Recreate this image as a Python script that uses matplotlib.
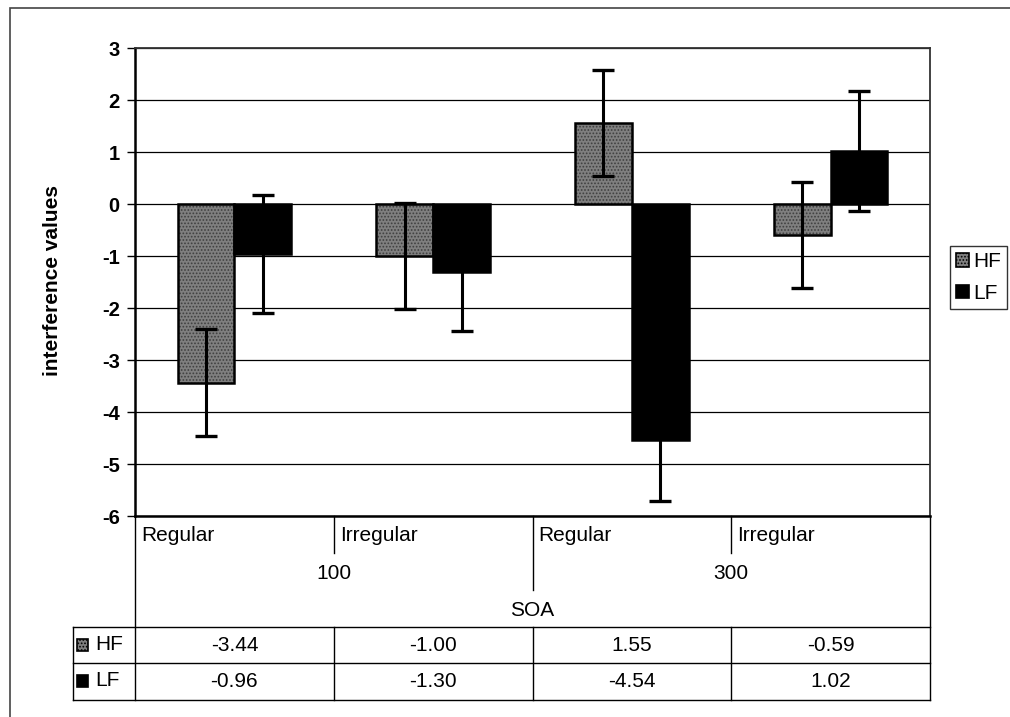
import numpy as np
import matplotlib
matplotlib.use('Agg')
import matplotlib.pyplot as plt
import matplotlib.transforms as mtransforms
from matplotlib.patches import Rectangle, Patch
from matplotlib.lines import Line2D

plt.rcParams['font.family'] = ['Liberation Sans', 'DejaVu Sans']
plt.rcParams['hatch.linewidth'] = 0.8
plt.rcParams['axes.unicode_minus'] = False

# data
soa_levels = ['100', '300']
rhythm = ['Regular', 'Irregular', 'Regular', 'Irregular']
series = ['HF', 'LF']
hf = [-3.44, -1.00, 1.55, -0.59]
lf = [-0.96, -1.30, -4.54, 1.02]
hf_err = [1.03, 1.01, 1.02, 1.02]
lf_err = [1.13, 1.14, 1.17, 1.15]

W, H = 1010, 717
fig = plt.figure(figsize=(W / 100, H / 100), dpi=100)
ax = fig.add_axes([135 / W, 1 - 516 / H, 795 / W, 468 / H])

def fx(p):
    return p / W

def fy(p):
    return 1 - p / H

grey = '#7f7f7f'
x = np.arange(len(hf))
w = 1 / 3.5

# bars
ax.bar(x - w / 2, hf, w, color=grey, edgecolor='#3f3f3f', linewidth=0, hatch='.....', zorder=2)
ax.bar(x - w / 2, hf, w, fill=False, edgecolor='black', linewidth=1.8, zorder=3)
ax.bar(x + w / 2, lf, w, color='black', edgecolor='black', linewidth=1.8, zorder=3)
ax.errorbar(x - w / 2, hf, yerr=hf_err, fmt='none', ecolor='black',
            elinewidth=2.2, capsize=8, capthick=2.4, zorder=4)
ax.errorbar(x + w / 2, lf, yerr=lf_err, fmt='none', ecolor='black',
            elinewidth=2.2, capsize=8, capthick=2.4, zorder=4)

ax.set_xlim(-0.5, len(hf) - 0.5)
ax.set_ylim(-6, 3)
ax.set_yticks(range(-6, 4))
ax.set_xticks([])
ax.yaxis.grid(True, color='black', linewidth=0.9)
ax.set_axisbelow(True)
ax.tick_params(axis='y', length=6, width=1, pad=5, labelsize=14.5)
for t in ax.get_yticklabels():
    t.set_fontweight('bold')
for s in ['left', 'bottom']:
    ax.spines[s].set_linewidth(1.8)
for s in ['top', 'right']:
    ax.spines[s].set_linewidth(1.3)
    ax.spines[s].set_color('#333333')

fig.text(fx(53), fy(281), 'interference values', rotation=90, ha='center', va='center',
         fontsize=15, fontweight='bold')

# category axis below the plot
bt = mtransforms.blended_transform_factory(ax.transData, ax.transAxes)
for i, r in enumerate(rhythm):
    ax.text(i - 0.5 + 0.03, -0.041, r, transform=bt, ha='left', va='center', fontsize=15)
for j, s in enumerate(soa_levels):
    ax.text(2 * j + 0.5, -0.122, s, transform=bt, ha='center', va='center', fontsize=15)
ax.text(1.5, -0.201, 'SOA', transform=bt, ha='center', va='center', fontsize=15)

lk = dict(transform=bt, color='black', linewidth=1.0, clip_on=False)
for xs in [0.5, 2.5]:
    ax.add_line(Line2D([xs, xs], [0, -0.079], **lk))
ax.add_line(Line2D([1.5, 1.5], [0, -0.158], **lk))
ax.add_line(Line2D([-0.5, -0.5], [0, -0.393], **lk))
ax.add_line(Line2D([3.5, 3.5], [0, -0.393], **lk))

# data table
x_left = -0.5 - (135 - 73) / 198.75
row_y = [-0.237, -0.314, -0.393]
for yy in row_y:
    ax.add_line(Line2D([x_left, 3.5], [yy, yy], **lk))
for xs in [x_left, 0.5, 1.5, 2.5]:
    ax.add_line(Line2D([xs, xs], [row_y[0], row_y[-1]], **lk))

row_mid = [-0.276, -0.354]
for vals, ym in zip([hf, lf], row_mid):
    for i, v in enumerate(vals):
        ax.text(i, ym, '%.2f' % v, transform=bt, ha='center', va='center', fontsize=15)

key_styles = [dict(facecolor=grey, edgecolor='black', hatch='.....', linewidth=1.2),
              dict(facecolor='black', edgecolor='black', linewidth=1.2)]
for name, ym, st in zip(series, [645, 681], key_styles):
    fig.add_artist(Rectangle((fx(77), fy(ym + 6)), 11 / W, 12 / H, transform=fig.transFigure, **st))
    fig.text(fx(95), fy(ym), name, ha='left', va='center', fontsize=15)

# legend
handles = [Patch(**key_styles[0]), Patch(**key_styles[1])]
leg = fig.legend(handles, series, loc='upper left', bbox_to_anchor=(fx(950), fy(246)),
                 fontsize=15, frameon=True, fancybox=False, edgecolor='black',
                 borderpad=0.3, handlelength=0.6, handleheight=0.6, handletextpad=0.2,
                 labelspacing=0.6, borderaxespad=0)
leg.get_frame().set_linewidth(1.0)

# outer chart border (cropped at right/bottom)
fig.add_artist(Rectangle((fx(10), fy(1500)), 2000 / W, 1492 / H, transform=fig.transFigure,
                         fill=False, edgecolor='#444444', linewidth=1.2))

fig.savefig('out.png', dpi=100)
